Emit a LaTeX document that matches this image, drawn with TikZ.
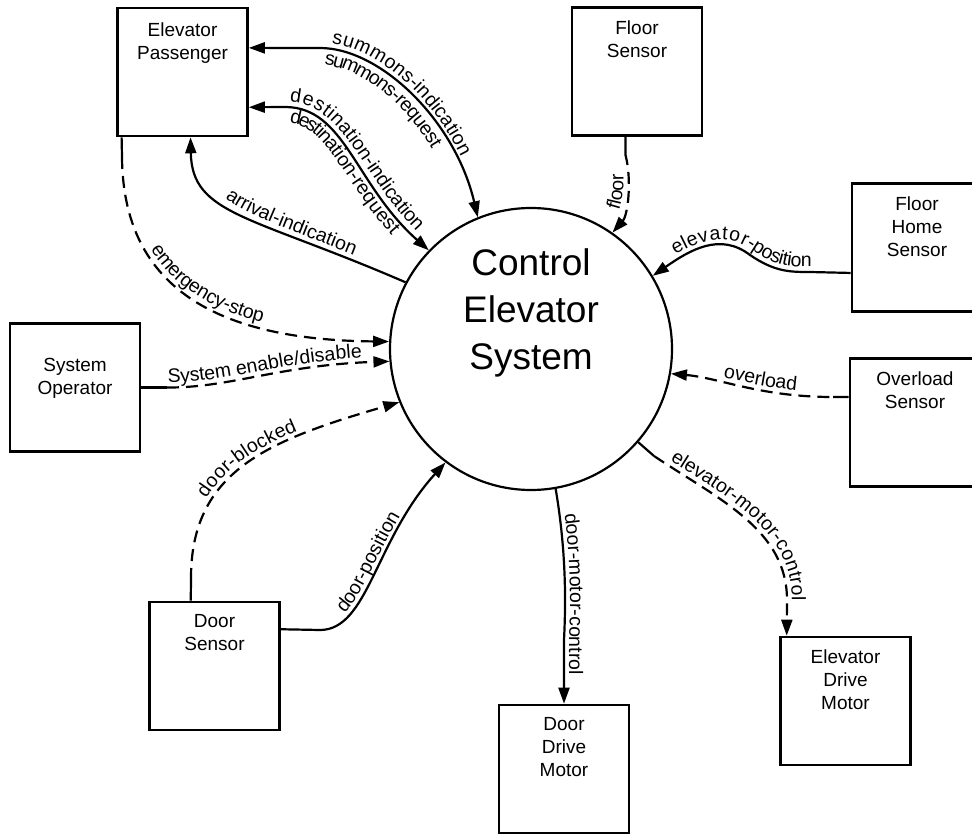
\documentclass[tikz,border=0pt]{standalone}
\usepackage{fontspec}
\setmainfont{Liberation Sans}
\usetikzlibrary{arrows.meta, decorations.text}

\newcommand{\flowfont}{\fontsize{19.5}{21}\selectfont}

\begin{document}
\begin{tikzpicture}[
x=1pt, y=-1pt,
>={Triangle[length=16pt,width=11pt]},
entity/.style={
rectangle,
draw,
line width=2.6pt,
minimum width=130pt,
minimum height=128pt
},
boxtext/.style={
anchor=north,
inner sep=0pt,
align=center,
font=\fontsize{19}{23}\selectfont,
yshift=-14pt
},
bubble/.style={
circle,
draw,
line width=2.2pt,
minimum size=282pt
},
bigtext/.style={
anchor=north,
inner sep=0pt,
align=center,
font=\fontsize{37}{47}\selectfont,
yshift=-42pt
},
flow/.style={draw, line width=2.2pt},
event/.style={flow, dash pattern=on 12pt off 7pt},
flowlabel/.style n args={3}{
postaction={decorate, decoration={text along path,
text={|\flowfont|#1}, raise=#2, text align={left indent=#3}}}
}
]

\clip (0,0) rectangle (972,834);

% Nodes
\node[bubble, label={[bigtext]north:Control\\Elevator\\System}] (control) at (531,349) {};

\node[entity, label={[boxtext, yshift=-2pt]north:Elevator\\Passenger}] (passenger) at (182.5,72) {};
\node[entity, label={[boxtext]north:Floor\\Sensor}] (floorsensor) at (637,71.5) {};
\node[entity, label={[boxtext]north:Floor\\Home\\Sensor}] (homesensor) at (917,247.5) {};
\node[entity, label={[boxtext]north:Overload\\Sensor}] (overloadsensor) at (915,422.5) {};
\node[entity, label={[boxtext, yshift=-22pt]north:System\\Operator}] (operator) at (75,387.5) {};
\node[entity, label={[boxtext]north:Door\\Sensor}] (doorsensor) at (214.5,666) {};
\node[entity, label={[boxtext]north:Door\\Drive\\Motor}] (doormotor) at (564,769) {};
\node[entity, label={[boxtext]north:Elevator\\Drive\\Motor}] (elevmotor) at (845.5,701) {};

% solid ends of the dashed flows
\coordinate (emergstub) at (122,157);
\coordinate (opstub) at (167,387.5);
\coordinate (blockstub) at (191,580);
\coordinate (floorstub) at (625.5,155);
\coordinate (overstub) at (833,397);
\coordinate (motorstub) at (654,456);

% Connections
\draw[flow, <->, flowlabel={summons-indication}{5pt}{82pt}, flowlabel={summons-request}{-17pt}{78pt}]
(passenger.20) -- (320,48) .. controls (380,48) and (455,120) .. (control.112);

\draw[flow, <->, flowlabel={destination-indication}{5pt}{40pt}, flowlabel={destination-request}{-16pt}{44pt}]
(passenger.-28) -- (285,107) .. controls (345,107) and (355,185) .. (control.136);

\draw[flow, <-, flowlabel={arrival-indication}{5pt}{76pt}]
(passenger.-83) .. controls (192,215) and (250,215) .. (control.152);

\draw[flow] (passenger.-133) -- (emergstub);
\draw[event, ->, flowlabel={emergency-stop}{5pt}{100pt}]
(emergstub) .. controls (123,290) and (220,340) .. (control.177);

\draw[flow] (operator.east) -- (opstub);
\draw[event, ->, flowlabel={System enable/disable}{5pt}{1pt}]
(opstub) .. controls (230,388) and (280,365) .. (control.185);

\draw[flow] (doorsensor.110) -- (blockstub);
\draw[event, ->, flowlabel={door-blocked}{5pt}{82pt}]
(blockstub) .. controls (190,470) and (270,440) .. (control.202);

\draw[flow, ->, flowlabel={door-position}{5pt}{72pt}]
(doorsensor.29) -- (320,630) .. controls (368,630) and (375,540) .. (control.233);

\draw[flow, ->, flowlabel={door-motor-control}{5pt}{26pt}]
(control.280) .. controls (566,550) and (566,600) .. (564,640) -- (doormotor.north);

\draw[flow] (control.-41) -- (motorstub);
\draw[event, ->, flowlabel={elevator-motor-control}{5pt}{16pt}]
(motorstub) .. controls (720,500) and (787,530) .. (787,600) -- (elevmotor.132);

\draw[flow, <-, flowlabel={elevator-position}{5pt}{30pt}]
(control.31) .. controls (690,250) and (720,232) .. (750,255)
.. controls (775,272) and (790,272) .. (810,272) -- (homesensor.201);

\draw[event, <-, flowlabel={overload}{5pt}{52pt}]
(control.-10) .. controls (720,378) and (760,397) .. (overstub);
\draw[flow] (overstub) -- (overloadsensor.159);

\draw[event, <-, flowlabel={floor}{5pt}{24pt}]
(control.55) .. controls (628,215) and (632,180) .. (floorstub);
\draw[flow] (floorstub) -- (floorsensor.-100);

\end{tikzpicture}
\end{document}
